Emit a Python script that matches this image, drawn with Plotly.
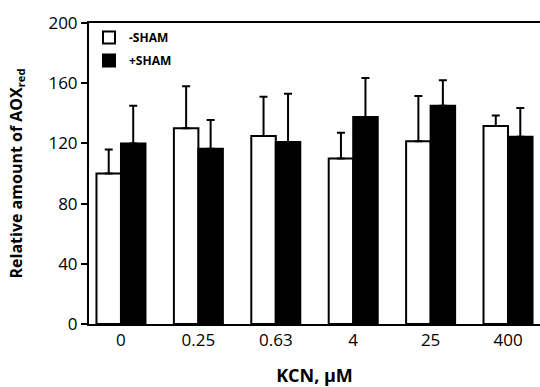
import plotly.graph_objects as go

categories = ["0", "0.25", "0.63", "4", "25", "400"]
minus_sham = [100, 130, 125, 110, 121.5, 131.5]
minus_sham_err = [16, 28, 26, 17, 30, 7]
plus_sham = [120, 116.5, 121, 137.5, 145, 124.5]
plus_sham_err = [25, 19, 32, 26, 17, 19]

FONT = "Open Sans"

fig = go.Figure()
fig.add_trace(go.Bar(
    x=categories, y=minus_sham, name="-SHAM", legendgroup="a",
    marker=dict(color="white", line=dict(color="black", width=2)),
    error_y=dict(type="data", array=minus_sham_err, arrayminus=[0]*6, symmetric=False,
                 color="black", thickness=2, width=4),
))
fig.add_trace(go.Bar(
    x=categories, y=plus_sham, name="+SHAM", legendgroup="b",
    marker=dict(color="black", line=dict(color="black", width=2)),
    error_y=dict(type="data", array=plus_sham_err, arrayminus=[0]*6, symmetric=False,
                 color="black", thickness=2, width=4),
))

fig.update_layout(
    width=540, height=387,
    margin=dict(l=89, r=0, t=23, b=63),
    paper_bgcolor="white", plot_bgcolor="white",
    barmode="group", bargap=0.367, bargroupgap=0,
    font=dict(family=FONT, color="black", size=17),
    showlegend=True,
    legend=dict(x=0.0, y=1.0, xanchor="left", yanchor="top",
                font=dict(family=FONT, size=12, weight="bold"),
                bgcolor="rgba(0,0,0,0)", traceorder="grouped", tracegroupgap=4,
                itemwidth=30),
    xaxis=dict(type="category", range=[-0.413, 5.413], showline=True, linecolor="black",
               linewidth=2, mirror=True, ticks="", showgrid=False, zeroline=False,
               tickfont=dict(family=FONT, size=17),
               title=dict(text="KCN, \u03bcM", font=dict(family=FONT, size=18, weight="bold"),
                          standoff=22)),
    yaxis=dict(range=[0, 200], tickvals=[0, 40, 80, 120, 160, 200], showline=True,
               linecolor="black", linewidth=2, ticks="outside", ticklen=6, tickwidth=2,
               tickcolor="black", showgrid=False, zeroline=False,
               tickfont=dict(family=FONT, size=17),
               title=dict(text="Relative amount of AOX<sub>red</sub>",
                          font=dict(family=FONT, size=16, weight="bold"), standoff=22)),
)

fig.write_html("out.html", config={"displayModeBar": False},
               post_script="document.body.style.margin='0';document.body.style.padding='0';")
